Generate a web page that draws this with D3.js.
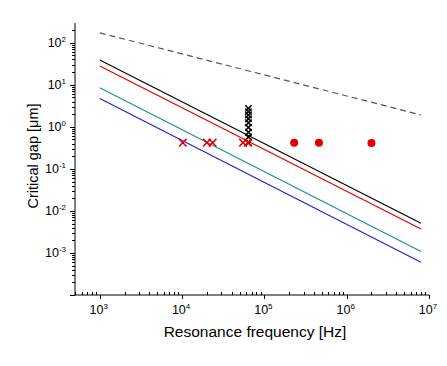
<!DOCTYPE html>
<html>
<head>
<meta charset="utf-8">
<script src="https://cdn.jsdelivr.net/npm/d3@7"></script>
<style>
  body { margin: 0; background: #fff; }
  text { font-family: "Liberation Sans", Arial, sans-serif; }
</style>
</head>
<body>
<script>
// scaling lines: [frequency Hz, gap um] end points
var dashedLine = [[1e3, 172], [8e6, 1.92]];
var blackLine = [[1e3, 39], [8e6, 0.0051]];
var redLine = [[1e3, 28], [8e6, 0.0037]];
var tealLine = [[1e3, 8.5], [8e6, 0.00108]];
var blueLine = [[1e3, 4.7], [8e6, 0.00060]];

// measured points
var redCrossFreq = [1.02e4, 2.0e4, 2.35e4, 5.5e4, 6.3e4];
var redCrossGap = [0.42, 0.42, 0.42, 0.42, 0.42];
var blackCrossFreq = [6.4e4, 6.4e4, 6.4e4, 6.4e4, 6.4e4, 6.4e4, 6.4e4, 6.4e4, 6.4e4];
var blackCrossGap = [0.42, 0.57, 0.74, 0.97, 1.25, 1.55, 1.9, 2.3, 2.75];
var redDotFreq = [2.3e5, 4.6e5, 2.0e6];
var redDotGap = [0.42, 0.42, 0.41];

var xTicks = [1e3, 1e4, 1e5, 1e6, 1e7];
var yTicks = [1e-3, 1e-2, 1e-1, 1e0, 1e1, 1e2];

var width = 447, height = 366;
var svg = d3.select("body").append("svg").attr("width", width).attr("height", height);

var x = d3.scaleLog().domain([500, 1e7]).range([75, 429]);
var y = d3.scaleLog().domain([1e-4, 10 ** 2.47]).range([295, 23]);

// minor ticks
function minorTicks(dom) {
  var out = [];
  for (var e = -5; e <= 8; e++) {
    for (var m = 1; m <= 9; m++) {
      var v = m * Math.pow(10, e);
      if (v >= dom[0] * 0.999 && v <= dom[1] * 1.001) out.push(v);
    }
  }
  return out;
}

var axes = svg.append("g").attr("stroke", "#000").attr("stroke-width", 1);
axes.append("line").attr("x1", 75).attr("x2", 75).attr("y1", y.range()[1]).attr("y2", 295.5);
axes.append("line").attr("x1", 74.5).attr("x2", 429.5).attr("y1", 295).attr("y2", 295);

axes.selectAll(".ym").data(minorTicks(y.domain())).enter().append("line")
  .attr("x1", 75).attr("x2", function(d) { return yTicks.indexOf(d) >= 0 || d === 1e-4 ? 70 : 72; })
  .attr("y1", function(d) { return Math.round(y(d)) + 0.5; })
  .attr("y2", function(d) { return Math.round(y(d)) + 0.5; });

axes.selectAll(".xm").data(minorTicks(x.domain())).enter().append("line")
  .attr("y1", 295).attr("y2", function(d) { return xTicks.indexOf(d) >= 0 ? 299 : 292; })
  .attr("x1", function(d) { return Math.round(x(d)) + 0.5; })
  .attr("x2", function(d) { return Math.round(x(d)) + 0.5; });

// tick labels
function pow10Label(sel) {
  sel.append("tspan").text("10");
  sel.append("tspan").attr("dy", -5).attr("font-size", 8).text(function(d) { return Math.round(Math.log10(d)); });
}
svg.selectAll(".yl").data(yTicks).enter().append("text")
  .attr("x", 66).attr("y", function(d) { return y(d) + 4; })
  .attr("text-anchor", "end").attr("font-size", 12.5).attr("fill", "#000")
  .call(pow10Label);
svg.selectAll(".xl").data(xTicks).enter().append("text")
  .attr("x", function(d) { return x(d) - 1; }).attr("y", 314)
  .attr("text-anchor", "middle").attr("font-size", 12.5).attr("fill", "#000")
  .call(pow10Label);

// axis titles
svg.append("text").attr("x", 255).attr("y", 337).attr("text-anchor", "middle")
  .attr("font-size", 15.5).text("Resonance frequency [Hz]");
svg.append("text").attr("transform", "translate(38,156) rotate(-90)").attr("text-anchor", "middle")
  .attr("font-size", 14.5).text("Critical gap [\u03bcm]");

// lines
var line = d3.line().x(function(d) { return x(d[0]); }).y(function(d) { return y(d[1]); });
var series = [
  { data: dashedLine, color: "#555", dash: "6,4" },
  { data: blackLine, color: "#000" },
  { data: redLine, color: "#e00000" },
  { data: tealLine, color: "#1a9090" },
  { data: blueLine, color: "#2222cc" }
];
svg.selectAll(".ser").data(series).enter().append("path")
  .attr("d", function(d) { return line(d.data); })
  .attr("fill", "none").attr("stroke", function(d) { return d.color; })
  .attr("stroke-width", 1.2)
  .attr("stroke-dasharray", function(d) { return d.dash || null; });

// markers
function cross(g, fx, fy, color, s) {
  var pts = fx.map(function(f, i) { return [f, fy[i]]; });
  g.selectAll(null).data(pts).enter().append("path")
    .attr("d", function(d) {
      var cx = x(d[0]), cy = y(d[1]);
      return "M" + (cx - s) + "," + (cy - s) + "L" + (cx + s) + "," + (cy + s) +
             "M" + (cx - s) + "," + (cy + s) + "L" + (cx + s) + "," + (cy - s);
    })
    .attr("stroke", color).attr("stroke-width", 1.5).attr("fill", "none");
}
var marks = svg.append("g");
cross(marks, blackCrossFreq, blackCrossGap, "#000", 3.2);
cross(marks, redCrossFreq, redCrossGap, "#e00000", 3.8);

marks.selectAll(".dot").data(redDotFreq).enter().append("circle")
  .attr("cx", function(d) { return x(d); })
  .attr("cy", function(d, i) { return y(redDotGap[i]); })
  .attr("r", 4).attr("fill", "#e00000");
</script>
</body>
</html>
